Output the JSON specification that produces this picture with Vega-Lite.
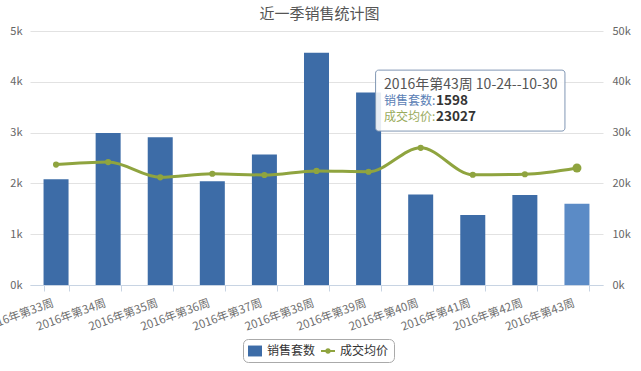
{
  "$schema": "https://vega.github.io/schema/vega-lite/v6.json",
  "width": 573,
  "height": 254,
  "autosize": {"type": "none"},
  "padding": {"left": 30, "top": 31, "right": 38, "bottom": 86},
  "background": "white",
  "title": {"text": "近一季销售统计图", "fontSize": 15, "font": "Noto Sans CJK SC", "fontWeight": "normal", "color": "#555555", "anchor": "middle", "offset": 3, "dx": 3},
  "datasets": {
    "weekly": [
      {"week": "2016年第33周", "sales": 2080, "price": 23700},
      {"week": "2016年第34周", "sales": 2990, "price": 24200},
      {"week": "2016年第35周", "sales": 2910, "price": 21200},
      {"week": "2016年第36周", "sales": 2040, "price": 21900},
      {"week": "2016年第37周", "sales": 2570, "price": 21650},
      {"week": "2016年第38周", "sales": 4570, "price": 22450},
      {"week": "2016年第39周", "sales": 3790, "price": 22300},
      {"week": "2016年第40周", "sales": 1780, "price": 27000},
      {"week": "2016年第41周", "sales": 1380, "price": 21700},
      {"week": "2016年第42周", "sales": 1770, "price": 21800},
      {"week": "2016年第43周", "sales": 1598, "price": 23027}
    ]
  },
  "data": {"name": "weekly"},
  "layer": [
    {
      "layer": [
        {
          "mark": {"type": "bar"},
          "encoding": {
            "x": {
              "field": "week", "type": "ordinal", "sort": null, "title": null,
              "scale": {"paddingInner": 0.52, "paddingOuter": 0.26},
              "axis": {"labelAngle": -20, "labelAlign": "right", "labelBaseline": "top", "labelColor": "#707070", "labelFontSize": 11.5, "labelFont": "Noto Sans CJK SC", "tickBand": "extent", "domainColor": "#c8d4e3", "tickColor": "#c8d4e3", "tickSize": 6, "labelPadding": 6, "labelOffset": -5, "grid": false}
            },
            "y": {
              "field": "sales", "type": "quantitative", "title": null,
              "scale": {"domain": [0, 5000], "nice": false},
              "axis": {"values": [0, 1000, 2000, 3000, 4000, 5000], "labelExpr": "datum.value / 1000 + 'k'", "domain": false, "ticks": false, "gridColor": "#e2e2e2", "labelPadding": 8, "labelColor": "#666666", "labelFontSize": 11, "labelFont": "Noto Sans CJK SC"}
            },
            "color": {"condition": {"test": "datum.week === '2016年第43周'", "value": "#5b8bc6"}, "value": "#3d6ca7"}
          }
        },
        {
          "data": {"values": [{"box": "tooltip"}]},
          "mark": {"type": "rect", "fill": "#ffffff", "fillOpacity": 0.88, "stroke": "#8197b4", "strokeWidth": 1, "cornerRadius": 3, "xOffset": 19.5, "x2Offset": 0.5},
          "encoding": {
            "x": {"datum": "2016年第39周", "type": "ordinal", "bandPosition": 0},
            "x2": {"datum": "2016年第43周", "bandPosition": 0},
            "y": {"datum": 4230, "type": "quantitative"},
            "y2": {"datum": 3030}
          }
        },
        {
          "data": {"values": [{"line": "2016年第43周 10-24--10-30"}]},
          "mark": {"type": "text", "align": "left", "baseline": "middle", "fontSize": 14, "font": "Noto Sans CJK SC", "color": "#555555", "dx": 28},
          "encoding": {
            "x": {"datum": "2016年第39周", "type": "ordinal", "bandPosition": 0},
            "y": {"datum": 3937, "type": "quantitative"},
            "text": {"field": "line"}
          }
        },
        {
          "data": {"values": [{"label": "销售套数:", "value": "1598", "level": 3622}, {"label": "成交均价:", "value": "23027", "level": 3307}]},
          "layer": [
            {
              "mark": {"type": "text", "align": "left", "baseline": "middle", "fontSize": 12, "font": "Noto Sans CJK SC", "dx": 28},
              "encoding": {
                "x": {"datum": "2016年第39周", "type": "ordinal", "bandPosition": 0},
                "y": {"field": "level", "type": "quantitative"},
                "text": {"field": "label"},
                "color": {"condition": {"test": "datum.label === '销售套数:'", "value": "#5a80b5"}, "value": "#9aab5c"}
              }
            },
            {
              "mark": {"type": "text", "align": "left", "baseline": "middle", "fontSize": 13.5, "fontWeight": "bold", "font": "Noto Sans CJK SC", "color": "#333333", "dx": 80},
              "encoding": {
                "x": {"datum": "2016年第39周", "type": "ordinal", "bandPosition": 0},
                "y": {"field": "level", "type": "quantitative"},
                "text": {"field": "value"}
              }
            }
          ]
        },
        {
          "data": {"values": [{"series": "销售套数"}, {"series": "成交均价"}]},
          "mark": {"type": "point", "filled": true, "opacity": 0},
          "encoding": {
            "color": {
              "field": "series", "type": "nominal",
              "scale": {"domain": ["销售套数", "成交均价"], "range": ["#3d6ca7", "#8fa43f"]},
              "legend": {"title": null, "orient": "none", "legendX": 213, "legendY": 308, "direction": "horizontal"}
            },
            "shape": {
              "field": "series", "type": "nominal",
              "scale": {"domain": ["销售套数", "成交均价"], "range": ["M-1,-0.78H1V0.78H-1Z", "M-1,-0.16H1V0.16H-1Z M0.4,0A0.4,0.4 0 1,1 -0.4,0A0.4,0.4 0 1,1 0.4,0Z"]},
              "legend": {"title": null, "orient": "none", "legendX": 213, "legendY": 308, "direction": "horizontal"}
            }
          }
        }
      ]
    },
    {
      "layer": [
        {
          "mark": {"type": "line", "interpolate": "monotone", "color": "#8fa43f", "strokeWidth": 3},
          "encoding": {
            "x": {"field": "week", "type": "ordinal", "sort": null},
            "y": {
              "field": "price", "type": "quantitative", "title": null,
              "scale": {"domain": [0, 50000], "nice": false},
              "axis": {"orient": "right", "values": [0, 10000, 20000, 30000, 40000, 50000], "labelExpr": "datum.value / 1000 + 'k'", "domain": false, "ticks": false, "grid": false, "labelPadding": 9, "labelColor": "#666666", "labelFontSize": 11, "labelFont": "Noto Sans CJK SC"}
            }
          }
        },
        {
          "mark": {"type": "point", "filled": true, "opacity": 1, "color": "#8fa43f"},
          "encoding": {
            "x": {"field": "week", "type": "ordinal", "sort": null},
            "y": {"field": "price", "type": "quantitative"},
            "size": {"condition": {"test": "datum.week === '2016年第43周'", "value": 80}, "value": 38}
          }
        }
      ]
    }
  ],
  "resolve": {"scale": {"y": "independent"}},
  "config": {
    "view": {"stroke": null},
    "legend": {"strokeColor": "#aaaaaa", "cornerRadius": 5, "padding": 5, "fillColor": "#ffffff", "labelFontSize": 12, "labelFont": "Noto Sans CJK SC", "labelColor": "#333333", "symbolSize": 196, "symbolStrokeWidth": 0, "symbolOpacity": 1, "columnPadding": 5, "labelOffset": 5}
  }
}
